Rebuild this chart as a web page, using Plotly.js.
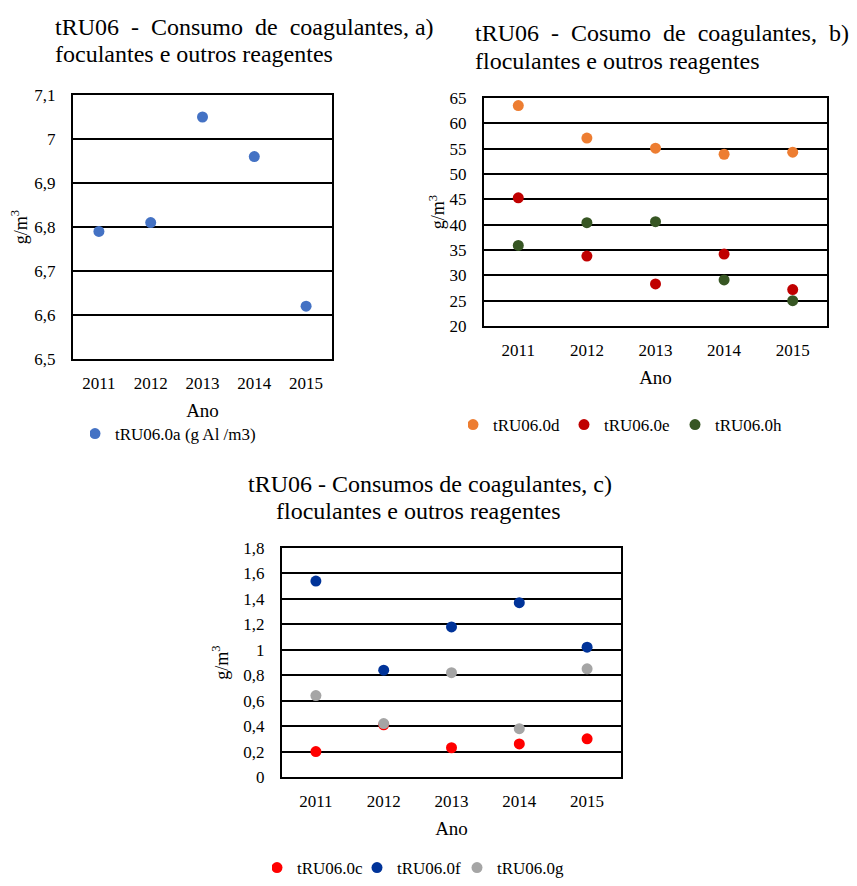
<!DOCTYPE html>
<html><head><meta charset="utf-8">
<script src="https://cdn.plot.ly/plotly-3.0.1.min.js"></script>
<style>html,body{margin:0;padding:0;background:#fff}</style>
</head>
<body><div id="chart" style="width:857px;height:886px"></div>
<script>
// ---- data ----
const years = ['2011', '2012', '2013', '2014', '2015'];
const a_0a = [6.79, 6.81, 7.05, 6.96, 6.62];
const b_0d = [63.5, 57.1, 55.1, 53.9, 54.3];
const b_0e = [45.3, 33.8, 28.3, 34.2, 27.2];
const b_0h = [35.9, 40.4, 40.6, 29.1, 25.0];
const c_0c = [0.20, 0.41, 0.23, 0.26, 0.30];
const c_0f = [1.54, 0.84, 1.18, 1.37, 1.02];
const c_0g = [0.64, 0.42, 0.82, 0.38, 0.85];
const ticksA = [6.5, 6.6, 6.7, 6.8, 6.9, 7.0, 7.1];
const ticksAText = ['6,5', '6,6', '6,7', '6,8', '6,9', '7', '7,1'];
const ticksB = [20, 25, 30, 35, 40, 45, 50, 55, 60, 65];
const ticksBText = ['20', '25', '30', '35', '40', '45', '50', '55', '60', '65'];
const ticksC = [0, 0.2, 0.4, 0.6, 0.8, 1.0, 1.2, 1.4, 1.6, 1.8];
const ticksCText = ['0', '0,2', '0,4', '0,6', '0,8', '1', '1,2', '1,4', '1,6', '1,8'];

// ---- layout helpers ----
const W = 857, H = 886;
const fx = p => p / W;
const fy = p => 1 - p / H;
const SERIF = 'Liberation Serif, Times New Roman, serif';
const MS = 11;

function xAxis(l, r, anchor) {
  return {
    domain: [fx(l), fx(r)], anchor: anchor, type: 'category', range: [-0.5, 4.5],
    showline: true, mirror: true, linecolor: '#000', linewidth: 2,
    showgrid: false, zeroline: false, ticks: '', ticklabelstandoff: 8,
    tickfont: {family: SERIF, size: 17, color: '#000'},
    title: {text: 'Ano', font: {family: SERIF, size: 19, color: '#000'}, standoff: 11},
    fixedrange: true
  };
}
function yAxis(t, b, anchor, range, tv, tt, so) {
  return {
    domain: [fy(b), fy(t)], anchor: anchor, range: range,
    tickvals: tv, ticktext: tt,
    showline: true, mirror: true, linecolor: '#000', linewidth: 2,
    showgrid: true, gridcolor: '#000', gridwidth: 2, zeroline: false, ticks: '',
    ticklabelstandoff: 12,
    tickfont: {family: SERIF, size: 17, color: '#000'},
    title: {text: 'g/m<sup>3</sup>', font: {family: SERIF, size: 18, color: '#000'}, standoff: so},
    fixedrange: true
  };
}
function pts(x, y, name, color, xa, ya, lg) {
  return {type: 'scatter', mode: 'markers', x: x, y: y, name: name,
    xaxis: xa, yaxis: ya, legend: lg,
    marker: {color: color, size: MS}, hoverinfo: 'x+y+name'};
}

const traces = [
  pts(years, a_0a, 'tRU06.0a (g Al /m3)', '#4472C4', 'x', 'y', 'legend'),
  pts(years, b_0d, 'tRU06.0d', '#ED7D31', 'x2', 'y2', 'legend2'),
  pts(years, b_0e, 'tRU06.0e', '#C00000', 'x2', 'y2', 'legend2'),
  pts(years, b_0h, 'tRU06.0h', '#375623', 'x2', 'y2', 'legend2'),
  pts(years, c_0c, 'tRU06.0c', '#FF0000', 'x3', 'y3', 'legend3'),
  pts(years, c_0f, 'tRU06.0f', '#003399', 'x3', 'y3', 'legend3'),
  pts(years, c_0g, 'tRU06.0g', '#A5A5A5', 'x3', 'y3', 'legend3')
];

const sp = '&nbsp; ';
function title(text, xp, yp) {
  return {text: text, xref: 'paper', yref: 'paper', x: fx(xp), y: fy(yp),
    xanchor: 'left', yanchor: 'middle', showarrow: false,
    font: {family: SERIF, size: 24, color: '#000'}};
}
const legFont = {family: SERIF, size: 17, color: '#000'};
function leg(xp, yp, ew, yanchor) {
  return {orientation: 'h', x: fx(xp), y: yanchor === 'bottom' ? 0 : fy(yp),
    xanchor: 'left', yanchor: yanchor || 'middle',
    font: legFont, bgcolor: 'rgba(0,0,0,0)', entrywidth: ew, entrywidthmode: 'pixels',
    indentation: -15, itemclick: false, itemdoubleclick: false, tracegroupgap: 0};
}

const layout = {
  width: W, height: H, margin: {l: 0, r: 0, t: 0, b: 0},
  paper_bgcolor: '#fff', plot_bgcolor: '#fff',
  font: {family: SERIF, color: '#000'},
  xaxis: xAxis(73, 332, 'y'),
  yaxis: yAxis(95, 359, 'x', [6.5, 7.1], ticksA, ticksAText, 2),
  xaxis2: xAxis(484, 827, 'y2'),
  yaxis2: yAxis(98, 326, 'x2', [20, 65], ticksB, ticksBText, 0),
  xaxis3: xAxis(282, 621, 'y3'),
  yaxis3: yAxis(548, 777, 'x3', [0, 1.8], ticksC, ticksCText, 10),
  legend: leg(90, 434, 160),
  legend2: leg(468, 425, 81),
  legend3: leg(272, 886, 70, 'bottom'),
  annotations: [
    title('tRU06' + sp + '-' + sp + 'Consumo' + sp + 'de' + sp + 'coagulantes, a)', 53, 27),
    title('foculantes e outros reagentes', 53, 54),
    title('tRU06' + sp + '-' + sp + 'Cosumo' + sp + 'de' + sp + 'coagulantes,' + sp + 'b)', 473, 33),
    title('floculantes e outros reagentes', 473, 61),
    title('tRU06 - Consumos de coagulantes, c)', 246, 484),
    title('floculantes e outros reagentes', 274, 511)
  ],
  showlegend: true
};

Plotly.newPlot('chart', traces, layout, {displayModeBar: false, staticPlot: true});
</script>
</body></html>
